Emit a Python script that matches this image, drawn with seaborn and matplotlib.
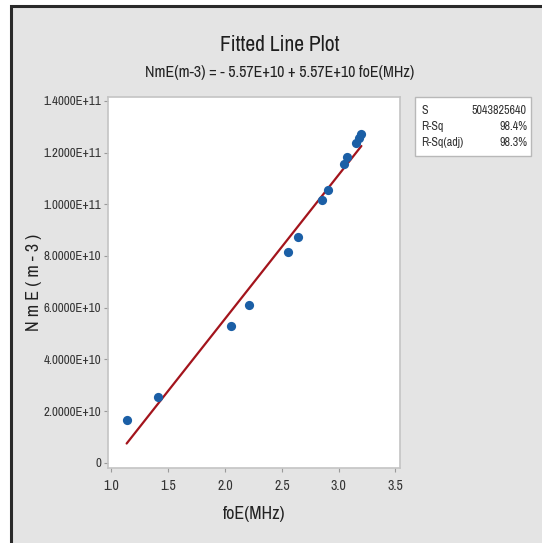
import matplotlib
matplotlib.use("Agg")
import matplotlib.pyplot as plt
import matplotlib.patches as mpatches
import numpy as np
import pandas as pd
import seaborn as sns
from matplotlib import font_manager

# Observations: E-layer critical frequency vs. peak electron density
foE = [1.134, 1.41, 2.056, 2.214, 2.55, 2.64, 2.855, 2.91, 3.05, 3.07, 3.155, 3.175, 3.20]
NmE = [1.67e10, 2.54e10, 5.31e10, 6.12e10, 8.15e10, 8.74e10, 1.015e11, 1.054e11,
       1.157e11, 1.184e11, 1.239e11, 1.258e11, 1.272e11]

# Regression summary
intercept = -5.57e10
slope = 5.57e10
stat_names = ["S", "R-Sq", "R-Sq(adj)"]
stat_values = ["5043825640", "98.4%", "98.3%"]

x_ticks = [1.0, 1.5, 2.0, 2.5, 3.0, 3.5]
y_ticks = [0, 2e10, 4e10, 6e10, 8e10, 1e11, 1.2e11, 1.4e11]
y_tick_labels = ["0", "2.0000E+10", "4.0000E+10", "6.0000E+10", "8.0000E+10",
                 "1.0000E+11", "1.2000E+11", "1.4000E+11"]

sns.set_theme(style="white")

# Prefer a narrow sans face when one is available
fonts = font_manager.fontManager.ttflist
narrow = [f.name for f in fonts if "Narrow" in f.name]
condensed = [f.name for f in fonts if str(f.stretch) in ("condensed", "semi-condensed")]
if narrow:
    fam, stretch = narrow[0], "normal"
elif condensed:
    fam, stretch = condensed[0], "condensed"
else:
    fam, stretch = "Liberation Sans", "normal"
plt.rcParams["font.family"] = [fam, "DejaVu Sans"]
plt.rcParams["font.stretch"] = stretch

df = pd.DataFrame({"foE": foE, "NmE": NmE})
fit = pd.DataFrame({"foE": [min(foE), max(foE)]})
fit["NmE"] = intercept + slope * fit["foE"]

fig = plt.figure(figsize=(5.42, 5.43), dpi=100)
fig.patch.set_facecolor("white")

# Panel background with dark frame on the left and top
panel = mpatches.Rectangle((10.5 / 542, -0.05), 1.1, 1 - 5.5 / 543 + 0.05,
                           transform=fig.transFigure, facecolor="#e4e4e4",
                           edgecolor="#2a2a2a", linewidth=2.2, zorder=-5)
fig.patches.append(panel)

ax = fig.add_axes([108 / 542, 1 - 468 / 543, 292 / 542, 371 / 543])
ax.set_zorder(2)
ax.set_facecolor("white")

sns.lineplot(data=fit, x="foE", y="NmE", ax=ax, color="#a3141c", linewidth=1.6, zorder=2)
sns.scatterplot(data=df, x="foE", y="NmE", ax=ax, color="#1b5fa6", s=44,
                edgecolor="#1b5fa6", linewidth=0, zorder=3)

ax.set_xlim(0.97, 3.54)
ax.set_ylim(-0.2e10, 1.415e11)
ax.set_xticks(x_ticks)
ax.set_xticklabels([f"{t:.1f}" for t in x_ticks])
ax.set_yticks(y_ticks)
ax.set_yticklabels(y_tick_labels)
ax.tick_params(axis="both", direction="out", length=3, width=0.8, color="#9a9a9a",
               labelcolor="#333333", bottom=True, left=True)
ax.tick_params(axis="x", labelsize=10, pad=5)
ax.tick_params(axis="y", labelsize=9.3, pad=2)
for sp in ax.spines.values():
    sp.set_color("#c4c4c4")
    sp.set_linewidth(1.2)

ax.set_xlabel("foE(MHz)", fontsize=13, color="#222222", labelpad=9)
ax.set_ylabel("N m E ( m - 3 )", fontsize=13, color="#222222", labelpad=1)

fig.text(280 / 542, 1 - 45 / 543, "Fitted Line Plot", ha="center", va="center",
         fontsize=15.5, color="#1e1e1e", fontweight="medium")
fig.text(280 / 542, 1 - 72 / 543, "NmE(m-3) = - 5.57E+10 + 5.57E+10 foE(MHz)",
         ha="center", va="center", fontsize=11.5, color="#222222")

# Regression statistics box
box = mpatches.Rectangle((415 / 542, 1 - 156 / 543), 116 / 542, 59 / 543,
                         transform=fig.transFigure, facecolor="white",
                         edgecolor="#b8b8b8", linewidth=1.0, zorder=1)
fig.patches.append(box)
for i, (n, v) in enumerate(zip(stat_names, stat_values)):
    yy = 1 - (110 + i * 16) / 543
    fig.text(421 / 542, yy, n, ha="left", va="center", fontsize=8.7, color="#333333")
    fig.text(527 / 542, yy, v, ha="right", va="center", fontsize=8.7, color="#333333")

fig.savefig("out.png", dpi=100, facecolor=fig.get_facecolor())
